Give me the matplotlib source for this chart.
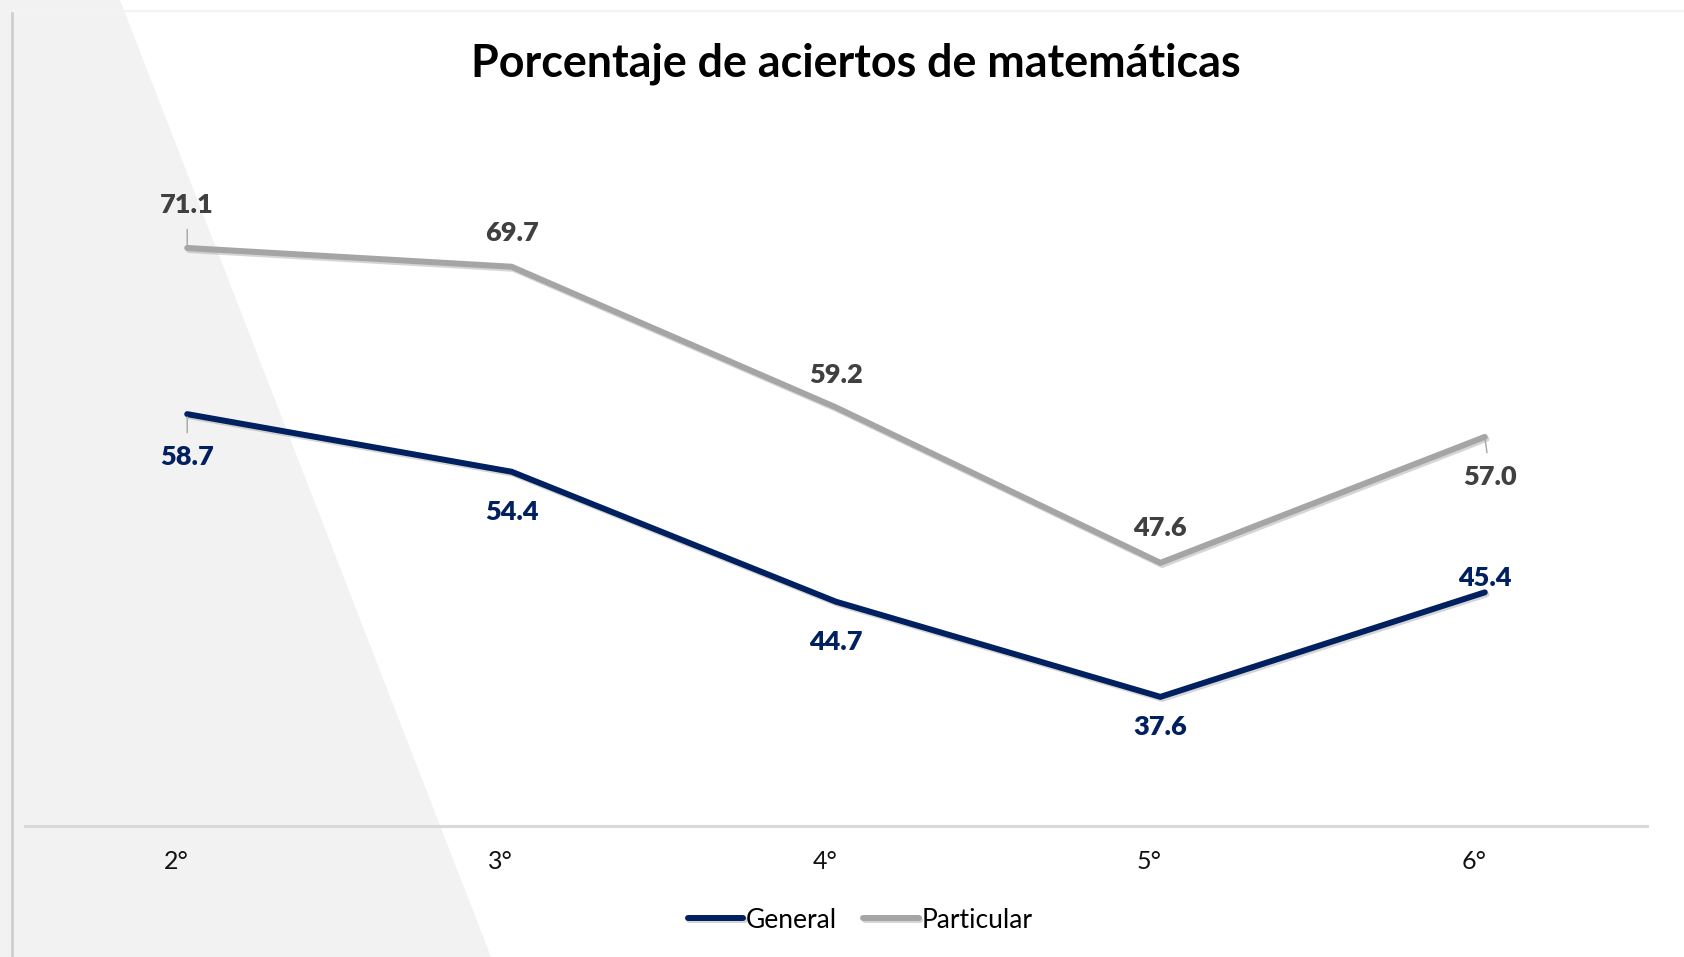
import matplotlib
matplotlib.use("Agg")
import matplotlib.pyplot as plt
import matplotlib.patheffects as pe
import matplotlib.transforms as mtransforms
from matplotlib.patches import Polygon
from matplotlib.lines import Line2D

plt.rcParams['font.family'] = ['Lato', 'DejaVu Sans']

# datos
grados = ['2°', '3°', '4°', '5°', '6°']
general = [58.7, 54.4, 44.7, 37.6, 45.4]
particular = [71.1, 69.7, 59.2, 47.6, 57.0]

azul = '#002060'
gris = '#a5a5a5'
gris_txt = '#404040'

# desplazamiento de las etiquetas (puntos)
off_part = [(0, 31), (0, 24), (0, 23), (0, 25), (4, -29)]
off_gen = [(0, -31), (0, -29), (0, -29), (0, -22), (0, 10)]

W, H = 1684, 957
fig = plt.figure(figsize=(W / 100, H / 100), dpi=100)

# fondo: triangulo gris a la izquierda
fig.patches.append(Polygon([(0, 1), (120 / W, 1), (491 / W, 0), (0, 0)],
                           closed=True, transform=fig.transFigure,
                           facecolor='#f2f2f2', edgecolor='none', zorder=-2))
fig.lines.append(Line2D([12 / W, 12 / W], [0, 1 - 13 / H], transform=fig.transFigure,
                        color='#cfcfcf', lw=2, zorder=-1))
fig.lines.append(Line2D([12 / W, 1], [1 - 11 / H, 1 - 11 / H], transform=fig.transFigure,
                        color='#f3f3f3', lw=1.5, zorder=-1))

ax = fig.add_axes([25 / W, 1 - 825.5 / H, (1647 - 25) / W, (825.5 - 128.7) / H])
ax.set_facecolor('none')
x = list(range(len(grados)))

sombra = [pe.SimpleLineShadow(offset=(1.2, -1.5), shadow_color='#888888', alpha=0.35),
          pe.Normal()]
ax.plot(x, general, color=azul, lw=4.3, solid_capstyle='round',
        solid_joinstyle='miter', path_effects=sombra, label='General', zorder=3)
ax.plot(x, particular, color=gris, lw=4.3, solid_capstyle='round',
        solid_joinstyle='miter', path_effects=sombra, label='Particular', zorder=3)

lider = dict(arrowstyle='-', color='#a6a6a6', lw=1, shrinkA=7, shrinkB=2)
for i, v in enumerate(particular):
    ap = lider if i in (0, 4) else None
    ax.annotate(f'{v:.1f}', (i, v), xytext=off_part[i], textcoords='offset points',
                ha='center', va='center', fontsize=19.5, fontweight='heavy',
                color=gris_txt, arrowprops=ap, zorder=4)
for i, v in enumerate(general):
    ap = lider if i == 0 else None
    ax.annotate(f'{v:.1f}', (i, v), xytext=off_gen[i], textcoords='offset points',
                ha='center', va='center', fontsize=19.5, fontweight='heavy',
                color=azul, arrowprops=ap, zorder=4)

ax.set_xlim(-0.5, 4.5)
ax.set_ylim(28, 80)
ax.set_yticks([])
ax.set_xticks(x)
ax.set_xticklabels(grados, fontsize=18, color='#111111')
ax.tick_params(axis='x', length=0, pad=17.5)
corr = mtransforms.ScaledTranslation(-11 / 100, 0, fig.dpi_scale_trans)
for lab in ax.get_xticklabels():
    lab.set_transform(lab.get_transform() + corr)
for s in ['left', 'right', 'top']:
    ax.spines[s].set_visible(False)
ax.spines['bottom'].set_color('#d9d9d9')
ax.spines['bottom'].set_linewidth(2.2)

fig.text(856 / W, 1 - 64 / H, 'Porcentaje de aciertos de matemáticas',
         ha='center', va='center', fontsize=32.3, fontweight='bold', color='black')

fig.legend(loc='center', bbox_to_anchor=(860 / W, 1 - 920 / H), ncol=2, frameon=False,
           fontsize=19, handlelength=2.1, handletextpad=0.1, columnspacing=1.0)

fig.savefig('out.png', dpi=100)
